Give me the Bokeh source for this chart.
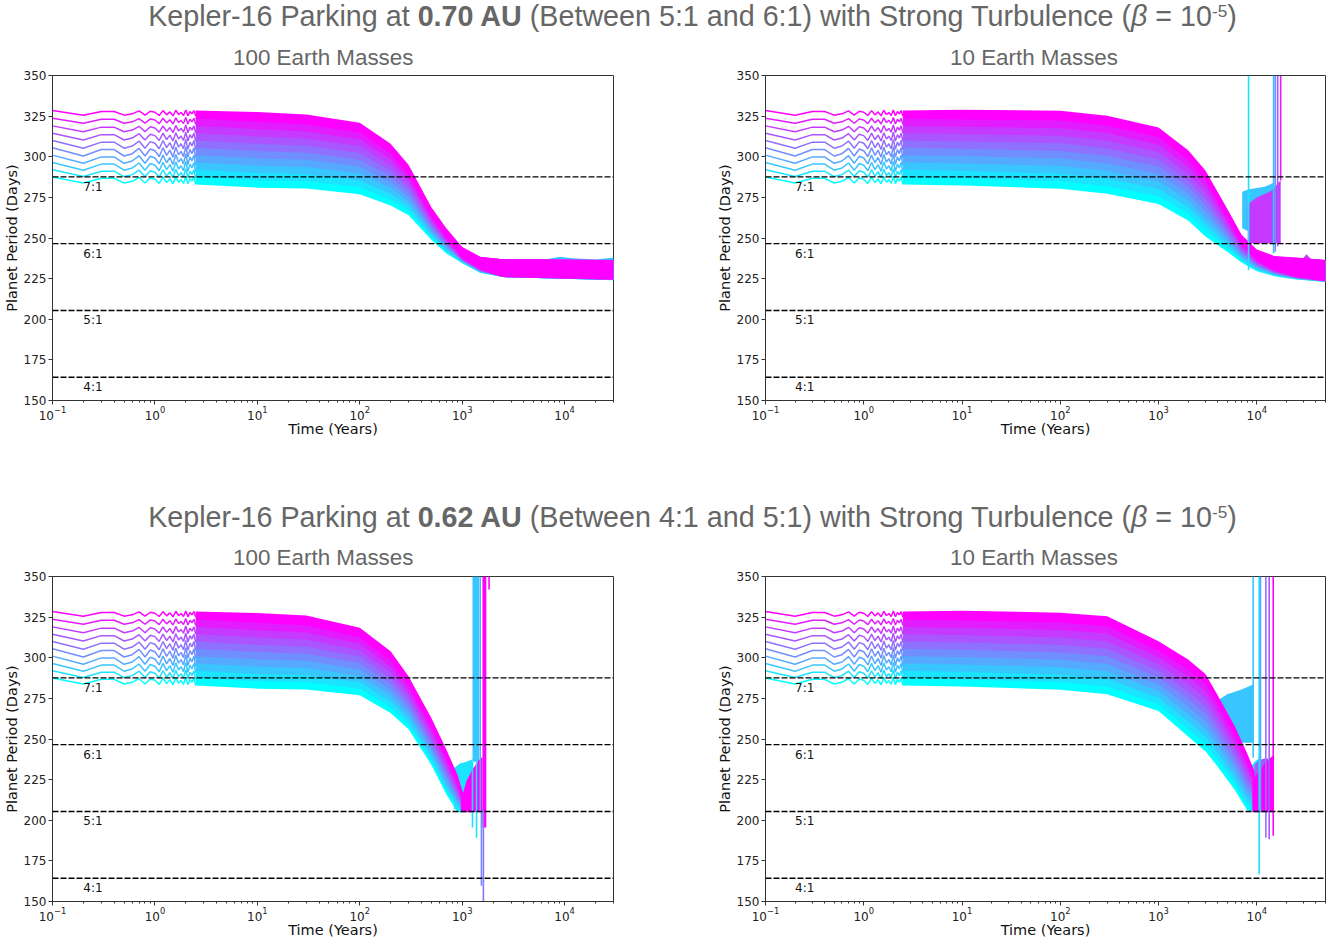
from bokeh.plotting import figure
from bokeh.models import Span, Label, FixedTicker, Div, Range1d, LogTickFormatter
from bokeh.layouts import column, row
from bokeh.embed import file_html
from bokeh.resources import INLINE

# ------------------------------------------------------------------ data
Y_TICKS = [150, 175, 200, 225, 250, 275, 300, 325, 350]
X_TICKS = [0.1, 1, 10, 100, 1000, 10000]
RES_PERIOD = [287.6, 246.5, 205.4, 164.3]
RES_LABEL = ["7:1", "6:1", "5:1", "4:1"]
RES_LABEL_T = 0.2

# early, resolved part of the curves (shared by all panels)
EARLY_T = [0.1, 0.2, 0.3, 0.4, 0.5, 0.6, 0.7, 0.8, 0.9, 1.0, 1.1, 1.2, 1.3,
           1.4, 1.5, 1.6, 1.7, 1.8, 1.9, 2.0, 2.1, 2.2, 2.3, 2.4, 2.5]
EARLY_OFFSET = [0.0, -2.8, -0.6, -0.6, -2.8, -2.0, -0.2, -2.8, -0.4, -1.0, -3.0,
                0.0, -2.6, -0.8, -3.2, 0.2, -2.4, -1.2, -3.0, 0.4, -3.2, -0.6,
                -2.0, 0.0, -3.4]
LINE_START = [287.5, 292.0, 296.5, 301.0, 305.5, 310.0, 314.5, 319.0, 323.7, 328.4]
LINE_WIGGLE = [1.3, 1.5, 1.7, 1.8, 1.8, 1.7, 1.5, 1.3, 1.1, 1.0]

# top-left: 100 Earth masses, 0.70 AU
TL_T = [2.5, 10, 30, 100, 200, 300, 500, 700, 1000, 1500, 2500, 30000]
TL_AMP = [2.5, 3, 3, 3, 3, 3, 3, 3, 3.5, 4, 5.5, 6]
TL_LINES = [
    [285.5, 284.0, 283.5, 280.0, 273.0, 267.0, 252.0, 243.5, 238.0, 232.5, 231.5, 230.0],
    [290.0, 288.5, 287.9, 284.2, 276.6, 269.8, 253.6, 244.6, 238.3, 232.7, 231.5, 230.1],
    [294.5, 293.0, 292.3, 288.4, 280.1, 272.6, 255.1, 245.6, 238.7, 232.9, 231.5, 230.1],
    [299.0, 297.5, 296.7, 292.7, 283.7, 275.3, 256.7, 246.7, 239.0, 233.2, 231.5, 230.2],
    [303.5, 302.0, 301.1, 296.9, 287.2, 278.1, 258.2, 247.7, 239.3, 233.4, 231.5, 230.2],
    [308.0, 306.5, 305.4, 301.1, 290.8, 280.9, 259.8, 248.8, 239.7, 233.6, 231.5, 230.3],
    [312.5, 311.0, 309.8, 305.3, 294.3, 283.7, 261.3, 249.8, 240.0, 233.8, 231.5, 230.3],
    [317.0, 315.5, 314.2, 309.6, 297.9, 286.4, 262.9, 250.9, 240.3, 234.1, 231.5, 230.4],
    [321.5, 320.0, 318.6, 313.8, 301.4, 289.2, 264.4, 251.9, 240.7, 234.3, 231.5, 230.4],
    [326.0, 324.5, 323.0, 318.0, 305.0, 292.0, 266.0, 253.0, 241.0, 234.5, 231.5, 230.5],
]
TL_BLOCK_LINE = [2]
TL_BLOCK_T = [[6000, 9000, 12000, 20000, 30000]]
TL_BLOCK_LO = [[230, 230, 230, 230, 230]]
TL_BLOCK_HI = [[236.5, 238.5, 237.5, 236.8, 238.0]]
TL_SPIKE_LINE = []
TL_SPIKE_T = []
TL_SPIKE_LO = []
TL_SPIKE_HI = []

# top-right: 10 Earth masses, 0.70 AU
TR_T = [2.5, 10, 100, 300, 1000, 2000, 3000, 5000, 7000, 10000, 15000, 25000, 50000]
TR_AMP = [2.5, 3, 3, 3, 3, 3, 3, 3, 3, 3.5, 4.5, 6, 6.5]
TR_LINES = [
    [285.5, 285.3, 283.3, 280.2, 274.0, 263.8, 254.0, 244.5, 238.0, 233.0, 231.0, 230.5, 229.5],
    [290.0, 289.8, 288.0, 284.9, 278.6, 267.9, 257.8, 246.8, 239.2, 233.7, 231.4, 230.7, 229.6],
    [294.5, 294.3, 292.6, 289.6, 283.1, 272.1, 261.7, 249.1, 240.4, 234.4, 231.8, 230.8, 229.6],
    [299.0, 298.9, 297.3, 294.2, 287.7, 276.2, 265.5, 251.3, 241.7, 235.2, 232.2, 231.0, 229.7],
    [303.5, 303.4, 302.0, 298.9, 292.2, 280.3, 269.3, 253.6, 242.9, 235.9, 232.6, 231.2, 229.7],
    [308.0, 307.9, 306.6, 303.6, 296.8, 284.5, 273.2, 255.9, 244.1, 236.6, 232.9, 231.3, 229.8],
    [312.5, 312.4, 311.3, 308.3, 301.3, 288.6, 277.0, 258.2, 245.3, 237.3, 233.3, 231.5, 229.8],
    [317.0, 317.0, 316.0, 313.0, 305.9, 292.7, 280.8, 260.4, 246.6, 238.1, 233.7, 231.7, 229.9],
    [321.5, 321.5, 320.6, 317.6, 310.4, 296.9, 284.7, 262.7, 247.8, 238.8, 234.1, 231.8, 229.9],
    [326.0, 326.0, 325.3, 322.3, 315.0, 301.0, 288.5, 265.0, 249.0, 239.5, 234.5, 232.0, 230.0],
]
TR_BLOCK_LINE = [2, 7, 7]
TR_BLOCK_T = [[7100, 8300, 12000, 14800], [8100, 10000, 14000, 17500], [29000, 32000, 35000]]
TR_BLOCK_LO = [[256, 254, 250, 248], [246.7, 246.7, 246.7, 246.7], [232, 232, 232]]
TR_BLOCK_HI = [[278.5, 280.0, 281.5, 284.0], [271, 275, 279, 285.6], [237.0, 240.0, 237.5]]
TR_SPIKE_LINE = [1, 2, 4, 6, 8]
TR_SPIKE_T = [8240, 14800, 15400, 16300, 17500]
TR_SPIKE_LO = [230.3, 240.6, 241.5, 245.0, 285.6]
TR_SPIKE_HI = [350, 350, 350, 350, 350]

# bottom-left: 100 Earth masses, 0.62 AU
BL_T = [2.5, 10, 30, 100, 200, 300, 500, 700, 900, 1050]
BL_AMP = [2.5, 3, 3, 3, 3, 3, 3, 3, 3, 3]
BL_LINES = [
    [285.5, 284.0, 283.5, 280.0, 269.0, 259.0, 237.0, 219.0, 208.0, 208.0],
    [290.0, 288.5, 287.9, 283.9, 272.6, 261.9, 239.6, 221.4, 209.9, 208.3],
    [294.5, 293.0, 292.3, 287.9, 276.1, 264.9, 242.1, 223.8, 211.8, 208.7],
    [299.0, 297.5, 296.7, 291.8, 279.7, 267.8, 244.7, 226.2, 213.7, 209.0],
    [303.5, 302.0, 301.1, 295.8, 283.2, 270.8, 247.2, 228.6, 215.6, 209.3],
    [308.0, 306.5, 305.4, 299.7, 286.8, 273.7, 249.8, 230.9, 217.4, 209.7],
    [312.5, 311.0, 309.8, 303.7, 290.3, 276.7, 252.3, 233.3, 219.3, 210.0],
    [317.0, 315.5, 314.2, 307.6, 293.9, 279.6, 254.9, 235.7, 221.2, 210.3],
    [321.5, 320.0, 318.6, 311.6, 297.4, 282.6, 257.4, 238.1, 223.1, 210.7],
    [326.0, 324.5, 323.0, 315.5, 301.0, 285.5, 260.0, 240.5, 225.0, 211.0],
]
BL_BLOCK_LINE = [1, 2, 9, 9]
BL_BLOCK_T = [[830, 950, 1100, 1260], [1260, 1460], [970, 1100, 1250, 1450, 1575], [1575, 1720]]
BL_BLOCK_LO = [[207, 207, 207, 207], [236, 236], [205, 205, 205, 205, 205], [195.5, 195.5]]
BL_BLOCK_HI = [[232, 235, 236, 237.5], [350, 350], [212, 224, 231, 237, 239], [350, 350]]
BL_SPIKE_LINE = [1, 1, 3, 4, 5, 9]
BL_SPIKE_T = [1260, 1380, 1500, 1540, 1610, 1830]
BL_SPIKE_LO = [195.5, 189.3, 205.0, 159.7, 150.0, 342.0]
BL_SPIKE_HI = [236, 236, 350, 206, 206, 350]

# bottom-right: 10 Earth masses, 0.62 AU
BR_T = [2.5, 10, 100, 300, 1000, 2000, 3000, 4000, 6000, 8000, 9500]
BR_AMP = [2.5, 3, 3, 3, 3, 3, 3, 3, 3, 3, 3]
BR_LINES = [
    [285.5, 285.3, 283.3, 280.5, 270.2, 254.5, 245.5, 236.0, 221.5, 209.0, 208.0],
    [290.0, 289.8, 287.9, 285.2, 274.3, 259.1, 250.1, 240.2, 225.2, 212.2, 210.1],
    [294.5, 294.3, 292.5, 289.9, 278.4, 263.7, 254.7, 244.4, 228.8, 215.4, 212.2],
    [299.0, 298.9, 297.1, 294.5, 282.5, 268.3, 259.3, 248.7, 232.5, 218.7, 214.3],
    [303.5, 303.4, 301.7, 299.2, 286.6, 272.9, 263.9, 252.9, 236.2, 221.9, 216.4],
    [308.0, 307.9, 306.3, 303.9, 290.8, 277.6, 268.6, 257.1, 239.8, 225.1, 218.6],
    [312.5, 312.4, 310.9, 308.6, 294.9, 282.2, 273.2, 261.3, 243.5, 228.3, 220.7],
    [317.0, 317.0, 315.5, 313.2, 299.0, 286.8, 277.8, 265.6, 247.2, 231.6, 222.8],
    [321.5, 321.5, 320.1, 317.9, 303.1, 291.4, 282.4, 269.8, 250.8, 234.8, 224.9],
    [326.0, 326.0, 324.7, 322.6, 307.2, 296.0, 287.0, 274.0, 254.5, 238.0, 227.0],
]
BR_BLOCK_LINE = [2, 1, 6, 9]
BR_BLOCK_T = [[4170, 5000, 7000, 9180], [8500, 9500, 10500, 11000],
              [9500, 10500, 12000, 13000], [9000, 10500, 12000, 13500, 14700]]
BR_BLOCK_LO = [[247.7, 247.7, 247.7, 247.7], [207, 207, 207, 207],
               [206, 206, 206, 206], [205, 205, 205, 205, 205]]
BR_BLOCK_HI = [[274.4, 277.5, 280.5, 283.6], [232, 236, 238, 238],
               [234, 237, 238, 238], [224, 230, 235, 238, 240]]
BR_SPIKE_LINE = [2, 1, 3, 5, 6, 9]
BR_SPIKE_T = [9180, 10570, 10900, 12360, 13360, 14690]
BR_SPIKE_LO = [238.5, 166.8, 205.0, 189.3, 188.3, 190.4]
BR_SPIKE_HI = [350, 350, 350, 350, 350, 350]

# ------------------------------------------------------------------ style
COLORS = ["#00ffff", "#1ce3ff", "#39c6ff", "#55aaff", "#718eff",
          "#8e71ff", "#aa55ff", "#c639ff", "#e31cff", "#ff00ff"]
MINOR = [k * 10.0 ** e for e in range(-1, 5) for k in range(2, 10)]
AX = "#333333"


def panel(xmax, T, AMP, LINES, B_LINE, B_T, B_LO, B_HI,
          S_LINE, S_T, S_LO, S_HI, frame_w, bl, br, bt, bb):
    p = figure(x_axis_type="log", x_range=Range1d(0.1, xmax),
               y_range=Range1d(150, 350), frame_width=frame_w, frame_height=325,
               min_border_left=bl, min_border_right=br, min_border_top=bt,
               min_border_bottom=bb, output_backend="svg", toolbar_location=None,
               background_fill_color="white", border_fill_color="white",
               margin=(0, 0, 0, 0))
    p.xgrid.visible = False
    p.ygrid.visible = False
    p.outline_line_color = AX
    p.outline_line_width = 1
    p.outline_line_alpha = 1.0

    for i in range(10):
        ys = [LINE_START[i] + o * LINE_WIGGLE[i] for o in EARLY_OFFSET]
        p.line(EARLY_T, ys, line_color=COLORS[i], line_width=1.5)

    for i in range(10):
        lo = [c - a for c, a in zip(LINES[i], AMP)]
        hi = [c + a for c, a in zip(LINES[i], AMP)]
        p.varea(x=T, y1=lo, y2=hi, fill_color=COLORS[i])
        for k, li in enumerate(B_LINE):
            if li == i:
                p.varea(x=B_T[k], y1=B_LO[k], y2=B_HI[k], fill_color=COLORS[i])

    if S_T:
        p.segment(x0=S_T, y0=S_LO, x1=S_T, y1=S_HI,
                  line_color=[COLORS[i] for i in S_LINE], line_width=1.6)

    for v, lab in zip(RES_PERIOD, RES_LABEL):
        p.add_layout(Span(location=v, dimension="width", line_color="black",
                          line_dash="6 2", line_width=1.3))
        p.add_layout(Label(x=RES_LABEL_T, y=v, text=lab, text_font="DejaVu Sans",
                           text_font_size="12px", text_baseline="top",
                           y_offset=-3, text_color="#111111"))

    for ax in (p.xaxis[0], p.yaxis[0]):
        ax.axis_line_color = AX
        ax.major_tick_line_color = AX
        ax.major_tick_out = 4
        ax.major_tick_in = 0
        ax.major_label_standoff = 2
        ax.major_label_text_font = "DejaVu Sans"
        ax.major_label_text_font_size = "12px"
        ax.major_label_text_color = "#222222"
        ax.axis_label_text_font = "DejaVu Sans"
        ax.axis_label_text_font_size = "14.5px"
        ax.axis_label_text_font_style = "normal"
        ax.axis_label_text_color = "#111111"
    p.xaxis.ticker = FixedTicker(ticks=X_TICKS, minor_ticks=MINOR)
    p.xaxis.formatter = LogTickFormatter()
    p.xaxis.minor_tick_line_color = AX
    p.xaxis.minor_tick_out = 2
    p.xaxis.minor_tick_in = 0
    p.xaxis.major_label_standoff = 1
    p.yaxis.ticker = FixedTicker(ticks=Y_TICKS)
    p.yaxis.minor_tick_line_color = None
    p.xaxis.axis_label = "Time (Years)"
    p.yaxis.axis_label = "Planet Period (Days)"
    p.xaxis.axis_label_standoff = -2
    p.yaxis.axis_label_standoff = 1
    return p


p_tl = panel(30000, TL_T, TL_AMP, TL_LINES,
             TL_BLOCK_LINE, TL_BLOCK_T, TL_BLOCK_LO, TL_BLOCK_HI,
             TL_SPIKE_LINE, TL_SPIKE_T, TL_SPIKE_LO, TL_SPIKE_HI,
             561, 52, 100, 5, 60)
p_tr = panel(50000, TR_T, TR_AMP, TR_LINES,
             TR_BLOCK_LINE, TR_BLOCK_T, TR_BLOCK_LO, TR_BLOCK_HI,
             TR_SPIKE_LINE, TR_SPIKE_T, TR_SPIKE_LO, TR_SPIKE_HI,
             560, 50, 8, 5, 60)
p_bl = panel(30000, BL_T, BL_AMP, BL_LINES,
             BL_BLOCK_LINE, BL_BLOCK_T, BL_BLOCK_LO, BL_BLOCK_HI,
             BL_SPIKE_LINE, BL_SPIKE_T, BL_SPIKE_LO, BL_SPIKE_HI,
             561, 52, 100, 5, 36)
p_br = panel(50000, BR_T, BR_AMP, BR_LINES,
             BR_BLOCK_LINE, BR_BLOCK_T, BR_BLOCK_LO, BR_BLOCK_HI,
             BR_SPIKE_LINE, BR_SPIKE_T, BR_SPIKE_LO, BR_SPIKE_HI,
             560, 50, 8, 5, 36)

SUP_STYLE = ("position:absolute; left:54px; width:1277px; text-align:center; "
             "font-family:'Liberation Sans'; font-size:28.7px; line-height:32px; "
             "color:#666666; white-space:nowrap; margin:0; padding:0;")
SUB_STYLE = ("position:absolute; font-family:'Liberation Sans'; font-size:22.4px; "
             "line-height:26px; color:#666666; white-space:nowrap; margin:0; padding:0;")
SUPER = '<sup style="font-size:0.6em; line-height:0; vertical-align:9px;">-5</sup>'
SUP1 = ("Kepler-16 Parking at <b>0.70 AU</b> (Between 5:1 and 6:1) with Strong "
        f"Turbulence (<i>β</i> = 10{SUPER})")
SUP2 = ("Kepler-16 Parking at <b>0.62 AU</b> (Between 4:1 and 5:1) with Strong "
        f"Turbulence (<i>β</i> = 10{SUPER})")
SUB_L = "100 Earth Masses"
SUB_R = "10 Earth Masses"


def header(sup, top_sup, top_sub, height):
    html = (f'<div style="position:relative; width:1331px; height:{height}px; margin:0; padding:0;">'
            f'<div style="{SUP_STYLE} top:{top_sup}px;">{sup}</div>'
            f'<div style="{SUB_STYLE} left:233px; top:{top_sub}px;">{SUB_L}</div>'
            f'<div style="{SUB_STYLE} left:950px; top:{top_sub}px;">{SUB_R}</div>'
            '</div>')
    return Div(text=html, width=1331, height=height, margin=(0, 0, 0, 0))


div1 = header(SUP1, 0, 45, 70)
div2 = header(SUP2, 41, 85, 111)

layout = column(div1, row(p_tl, p_tr, margin=(0, 0, 0, 0)), div2,
                row(p_bl, p_br, margin=(0, 0, 0, 0)), margin=(0, 0, 0, 0))

open("out.html", "w").write(file_html(layout, INLINE))
